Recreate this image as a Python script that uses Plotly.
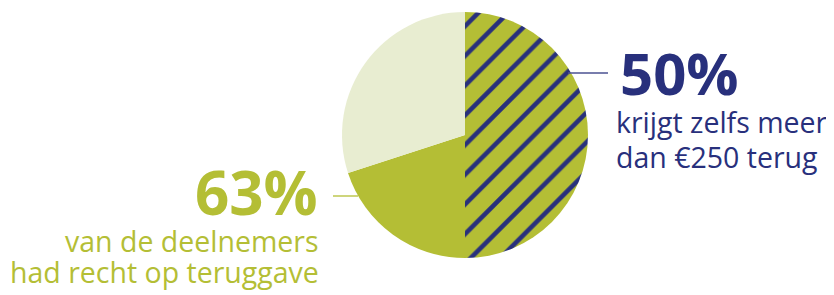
import plotly.graph_objects as go

# page offset: the html body has an 8px margin
OX, OY = 8, 8
W, H = 834 - OX, 295 - OY

slice_labels = ["meer dan €250 terug", "recht op teruggave", "geen teruggave"]
slice_values = [50, 20, 30]
slice_colors = ["#B4BE35", "#B4BE35", "#E8EDD1"]
slice_patterns = ["/", "", ""]

navy = "#28307C"
green = "#B4BE35"

big_right = "50%"
right_lines = ["krijgt zelfs meer", "dan €250 terug"]
big_left = "63%"
left_lines = ["van de deelnemers", "had recht op teruggave"]

# reference-pixel geometry
cx, cy, r = 465 - OX, 135 - OY, 123

fig = go.Figure(go.Pie(
    labels=slice_labels,
    values=slice_values,
    sort=False,
    direction="clockwise",
    rotation=0,
    textinfo="none",
    hoverinfo="label+percent",
    marker=dict(
        colors=slice_colors,
        line=dict(width=0),
        pattern=dict(shape=slice_patterns, fgcolor=navy, bgcolor=slice_colors,
                     size=21, solidity=0.22),
    ),
    domain=dict(x=[(cx - r) / W, (cx + r) / W], y=[(H - cy - r) / H, (H - cy + r) / H]),
    showlegend=False,
))

def px(x):
    return (x - OX) / W

def py(y):
    return 1 - (y - OY) / H

font = "Open Sans"
K = 0.39  # baseline offset from box middle, in em
ann = []
# right side
s = 58
ann.append(dict(text=f"<b>{big_right}</b>", x=px(618), y=py(95 - K * s), xanchor="left", yanchor="middle",
                font=dict(family=font, size=s, color=navy)))
s = 28.5
for i, t in enumerate(right_lines):
    base = 133 + 35 * i
    ann.append(dict(text=t, x=px(614), y=py(base - K * s), xanchor="left", yanchor="middle",
                    font=dict(family=font, size=s, color=navy)))
# left side
s = 60
ann.append(dict(text=f"<b>{big_left}</b>", x=px(320), y=py(215 - K * s), xanchor="right", yanchor="middle",
                font=dict(family=font, size=s, color=green)))
s = 28.5
for i, t in enumerate(left_lines):
    base = 252 + 31.5 * i
    ann.append(dict(text=t, x=px(321), y=py(base - K * s), xanchor="right", yanchor="middle",
                    font=dict(family=font, size=s, color=green)))
for a in ann:
    a.update(xref="paper", yref="paper", showarrow=False)

shapes = [
    dict(type="line", xref="paper", yref="paper", x0=px(568), x1=px(608), y0=py(73), y1=py(73),
         line=dict(color="#4B5292", width=1.3)),
    dict(type="line", xref="paper", yref="paper", x0=px(333), x1=px(358), y0=py(196), y1=py(196),
         line=dict(color=green, width=1.3)),
]

fig.update_layout(
    width=W, height=H,
    margin=dict(l=0, r=0, t=0, b=0),
    paper_bgcolor="white",
    plot_bgcolor="white",
    annotations=ann,
    shapes=shapes,
)

fig.write_html("out.html")
